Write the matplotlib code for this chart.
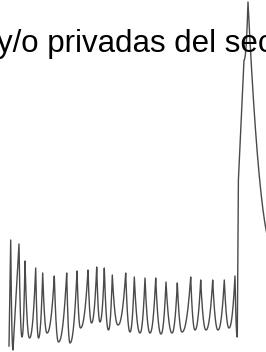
import numpy as np
import matplotlib
matplotlib.use("Agg")
import matplotlib.pyplot as plt

# visible part of the title (cut by the frame on both sides)
title = 'y/o privadas del sector'

# series: alternating peaks and troughs, then the spike
xs = [9, 10.7, 13, 19, 22, 25, 29.5, 35.7, 38.5, 42.7, 47, 54.3, 58.5, 66.7, 70,
      77, 80.5, 88, 91.5, 96.7, 100, 104.3, 108.5, 112.3, 118, 125.7, 130,
      134.3, 140, 145, 150, 155.7, 161, 166, 172, 177.3, 182, 190.7, 195,
      200.7, 206, 212.7, 218, 224.3, 229, 235, 237.3, 238.4, 244, 248, 275]
vals = [6, 112, 2, 108, 15, 91, 14, 84, 14, 79, 19, 76, 10, 79, 9,
        81, 24, 82, 29, 85, 30, 84, 22, 77, 27, 79, 20,
        75, 19, 74, 19, 74, 18, 70, 19, 69, 20, 75, 22,
        72, 22, 72, 22, 72, 24, 76, 15, 172, 292, 350, 100]


def eased(x, y, n=30, p=2.2):
    # sharp tops, rounded bottoms between consecutive points
    px, py = [], []
    for i in range(len(x) - 1):
        s = np.linspace(0, 1, n)
        if y[i + 1] - y[i] > 100:
            seg = y[i] + (y[i + 1] - y[i]) * s
        elif y[i + 1] > y[i]:
            seg = y[i] + (y[i + 1] - y[i]) * s ** p
        else:
            seg = y[i + 1] + (y[i] - y[i + 1]) * (1 - s) ** p
        px.extend(x[i] + (x[i + 1] - x[i]) * s)
        py.extend(seg)
    return np.array(px), np.array(py)


fig = plt.figure(figsize=(2.66, 3.52), dpi=100)
ax = fig.add_axes([0, 0, 1, 1])
lx, ly = eased(xs, vals)
ax.plot(lx, ly, color='#4a4a4a', lw=1.0)
ax.set_xlim(0, 266)
ax.set_ylim(0, 352)
ax.axis('off')

fig.text(-3 / 266, 1 - 52 / 352, title, fontsize=22.5, family='Liberation Sans',
         va='baseline', ha='left', color='black')

fig.savefig('out.png', dpi=100)
